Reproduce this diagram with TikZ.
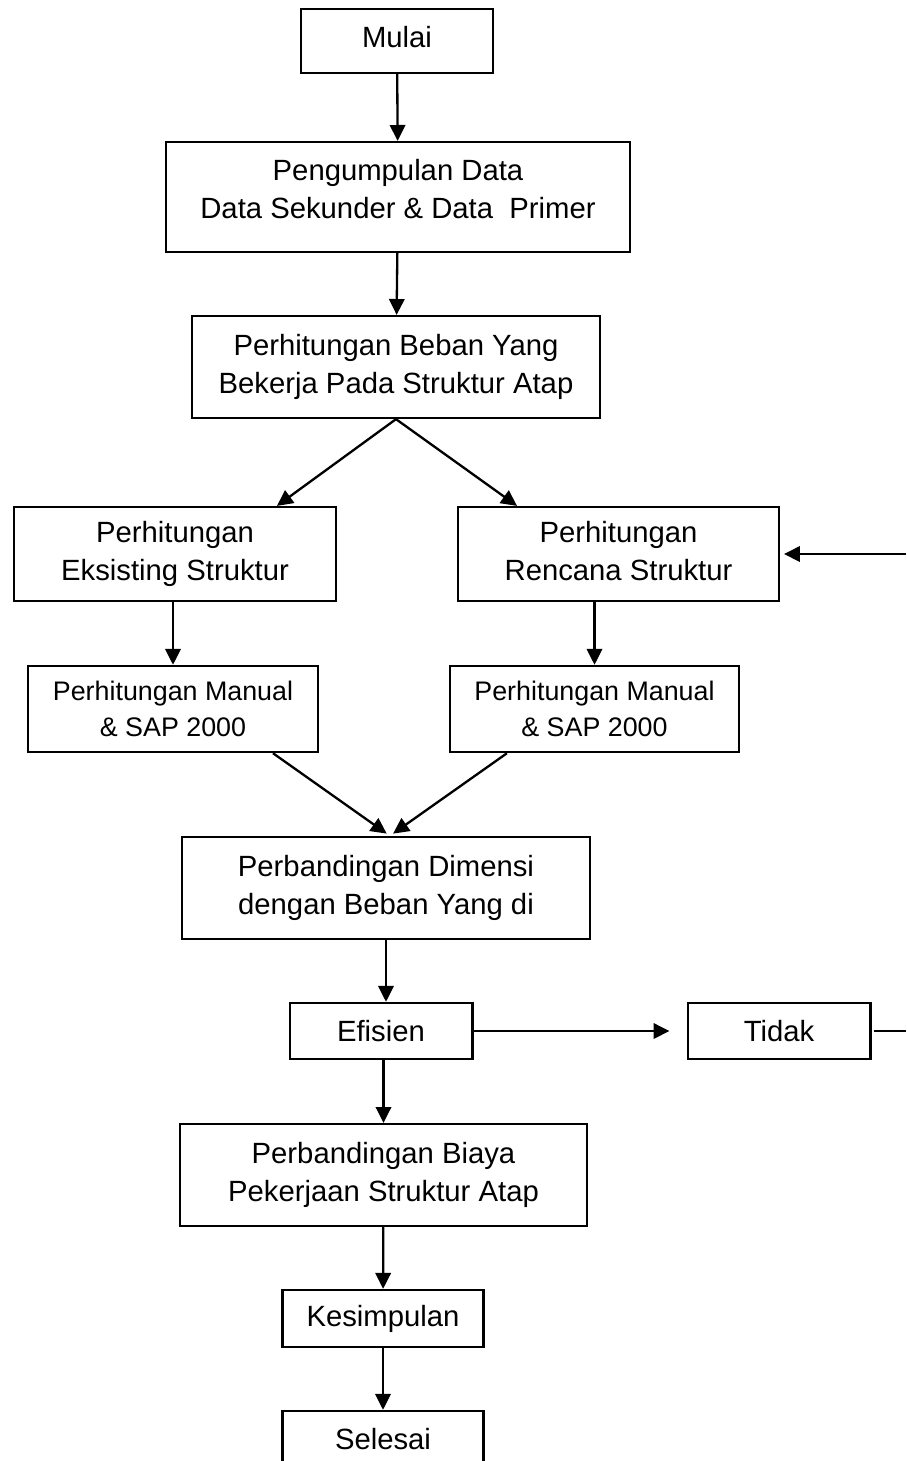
\documentclass[tikz,border=0pt]{standalone}
\usepackage{fontspec}
\setmainfont{Liberation Sans}
\usepackage{tikz}
\usetikzlibrary{arrows.meta,positioning}

\begin{document}
\begin{tikzpicture}[x=0.41pt, y=-0.41pt, line width=0.95pt,
    >={Triangle[length=6.5pt,width=6.3pt]},
    box/.style={draw, rectangle, align=center, inner sep=0pt,
        font=\fontsize{12}{15.6}\selectfont},
    smallbox/.style={box, font=\fontsize{11}{14.8}\selectfont}]
    \useasboundingbox (0,0) rectangle (906,1461);

    % Start and input data
    \node[box, minimum width=78.7pt, minimum height=26.2pt] (mulai) at (397,41) {Mulai\rule[-3.7pt]{0pt}{3.7pt}};
    \node[box, minimum width=190.2pt, minimum height=45.1pt] (data) at (398,197) {Pengumpulan Data\\Data Sekunder \& Data\ \ Primer\rule[-7pt]{0pt}{7pt}};
    \node[box, minimum width=167.3pt, minimum height=41.8pt] (beban) at (396,367) {Perhitungan Beban Yang\\Bekerja Pada Struktur Atap};

    % Two branches
    \node[box, minimum width=131.8pt, minimum height=38.5pt] (eksisting) at (175,554) {Perhitungan\\Eksisting Struktur};
    \node[box, minimum width=131.6pt, minimum height=38.5pt] (rencana) at (618.5,554) {Perhitungan\\Rencana Struktur\vphantom{g}};
    \node[smallbox, minimum width=118.9pt, minimum height=35.3pt] (manualA) at (173,709) {Perhitungan Manual\\\& SAP 2000};
    \node[smallbox, minimum width=118.5pt, minimum height=35.3pt] (manualB) at (594.5,709) {Perhitungan Manual\\\& SAP 2000};

    % Comparison and check
    \node[box, minimum width=167.1pt, minimum height=41.8pt] (dimensi) at (386,888) {Perbandingan Dimensi\\dengan Beban Yang di};
    \node[box, minimum width=74.9pt, minimum height=23pt] (efisien) at (381,1031) {Efisien};
    \node[box, minimum width=74.9pt, minimum height=23pt] (tidak) at (779,1031) {Tidak};
    \node[box, minimum width=166.9pt, minimum height=41.8pt] (biaya) at (383.5,1175) {Perbandingan Biaya\\Pekerjaan Struktur Atap};

    % End
    \node[box, minimum width=82.4pt, minimum height=23.4pt] (kesimpulan) at (383,1318.5) {Kesimpulan};
    \node[box, minimum width=82.4pt, minimum height=23.4pt] (selesai) at (383,1439.5) {Selesai};

    % Feedback loop leaves the page on the right
    \coordinate (kanan) at (906,1032);

    \draw[->] (mulai) -- (data);
    \draw[->] (data) -- (beban);
    \draw[->] (beban.south) -- ([xshift=41.8pt]eksisting.north);
    \draw[->] (beban.south) -- ([xshift=-41.6pt]rencana.north);
    \draw[->] (eksisting.south -| manualA.north) -- (manualA.north);
    \draw[->] (rencana.south -| manualB.north) -- (manualB.north);
    \draw[->, shorten >=1.6pt] ([xshift=41pt]manualA.south) -- ([xshift=1.6pt]dimensi.north);
    \draw[->, shorten >=1.6pt] ([xshift=-35.9pt]manualB.south) -- ([xshift=1.6pt]dimensi.north);
    \draw[->] (dimensi.south) -- (dimensi.south |- efisien.north);
    \draw[->, shorten >=7pt] (efisien) -- (tidak);
    \draw[shorten <=1.2pt] (tidak.east) -- (tidak.east -| kanan);
    \draw[->, shorten >=1.6pt] (rencana.east -| kanan) -- (rencana.east);
    \draw[->] (biaya.north |- efisien.south) -- (biaya.north);
    \draw[->] (biaya) -- (kesimpulan);
    \draw[->] (kesimpulan) -- (selesai);
\end{tikzpicture}
\end{document}
